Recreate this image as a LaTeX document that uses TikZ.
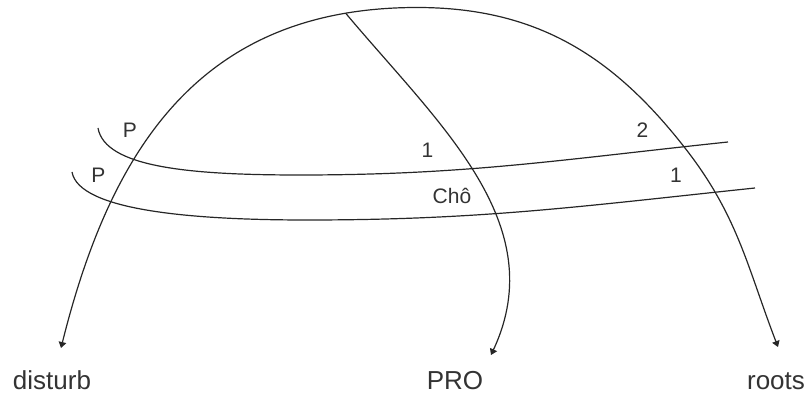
\documentclass[tikz,border=0pt]{standalone}
\usepackage{fontspec}
\setmainfont{Liberation Sans}
\usetikzlibrary{positioning,arrows.meta}

\begin{document}
\begin{tikzpicture}[
  x=0.5pt, y=0.5pt,
  line width=0.6pt, draw=black!85,
  >={Triangle[length=3pt,width=3.8pt]},
  every node/.style={inner sep=0pt, anchor=base, text=black!80},
  lbl/.style={font=\fontsize{10.5}{12}\selectfont},
  leaf/.style={font=\fontsize{13}{15}\selectfont}
]
\useasboundingbox (0,0) rectangle (809,396);

\node[leaf] (disturb) at (52,6) {disturb};
\node[leaf] (pro) at (455,6) {PRO};
\node[leaf] (roots) at (776,6) {roots};

\coordinate (tipL) at (61,48);
\coordinate (apex) at (417,388.5);
\coordinate (rmid) at (685,248);
\coordinate (tipR) at (778,49);
\coordinate (tipM) at (491,41);

\coordinate (u0) at (98,268);
\coordinate (umin) at (300,221);
\coordinate (u1) at (728,254);
\coordinate (l0) at (72,224);
\coordinate (lmin) at (307,176);
\coordinate (l1) at (755,208);

\node[lbl] (pUp) at (130,258) {P};
\node[lbl] (pLow) at (98.5,213) {P};
\node[lbl] (oneMid) at (427.5,238) {1};
\node[lbl] (cho) at (452,192) {Chô};
\node[lbl] (two) at (642.5,258) {2};
\node[lbl] (oneRight) at (676,213) {1};

\draw[<->] (tipL) to[out=76, in=180, looseness=1.1] coordinate[pos=0.88] (top) (apex)
  to[out=0, in=128] (rmid) to[out=-52, in=111] (tipR);
\draw[->] (top) to[out=-50, in=65] (tipM);

\draw (u0) .. controls +(-80:40) and +(-110,0) .. (umin) to[out=0, in=186] (u1);
\draw (l0) .. controls +(-80:40) and +(-110,0) .. (lmin) to[out=0, in=186] (l1);
\end{tikzpicture}
\end{document}
